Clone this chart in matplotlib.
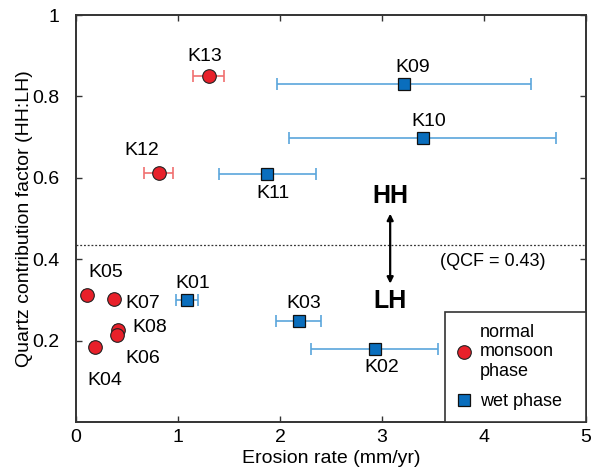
import matplotlib
matplotlib.use("Agg")
import matplotlib.pyplot as plt
from matplotlib.lines import Line2D

plt.rcParams['font.family'] = ['Liberation Sans', 'DejaVu Sans']

# normal monsoon phase (red circles)
n_names = ["K13", "K12", "K05", "K07", "K08", "K06", "K04"]
n_x = [1.30, 0.81, 0.11, 0.37, 0.41, 0.40, 0.19]
n_y = [0.850, 0.612, 0.312, 0.302, 0.226, 0.214, 0.184]
n_xlo = [1.15, 0.67, 0.08, 0.34, 0.38, 0.37, 0.16]
n_xhi = [1.45, 0.95, 0.14, 0.40, 0.44, 0.43, 0.22]
n_off = [(-3, 14), (-12, 16), (13, 16), (21, -3), (23, 2), (19, -17), (7, -24)]

# wet phase (blue squares)
w_names = ["K09", "K10", "K11", "K01", "K03", "K02"]
w_x = [3.22, 3.40, 1.875, 1.09, 2.19, 2.93]
w_y = [0.830, 0.698, 0.609, 0.300, 0.248, 0.179]
w_xlo = [1.97, 2.09, 1.40, 0.98, 1.96, 2.30]
w_xhi = [4.46, 4.71, 2.35, 1.20, 2.40, 3.55]
w_off = [(6, 12), (4, 12), (4, -14), (4, 12), (3, 13), (5, -13)]

qcf = 0.435
x_ticks = [0, 1, 2, 3, 4, 5]
y_ticks = [0.2, 0.4, 0.6, 0.8, 1.0]
y_tick_labels = ["0.2", "0.4", "0.6", "0.8", "1"]

red = "#E8202A"
red_err = "#F07070"
blue = "#0A6EBD"
blue_err = "#5AA5DC"

fig = plt.figure(figsize=(5.91, 4.71), dpi=100)
ax = fig.add_axes([0.1286, 0.104, 0.8630, 0.864])

ax.axhline(qcf, color="#333333", lw=0.9, ls=(0, (1.5, 1.5)), zorder=1)

# error bars
n_err = [[x - lo for x, lo in zip(n_x, n_xlo)], [hi - x for x, hi in zip(n_x, n_xhi)]]
w_err = [[x - lo for x, lo in zip(w_x, w_xlo)], [hi - x for x, hi in zip(w_x, w_xhi)]]
ax.errorbar(n_x, n_y, xerr=n_err, fmt="none", ecolor=red_err, elinewidth=1.2,
            capsize=4, capthick=1.2, zorder=2)
ax.errorbar(w_x, w_y, xerr=w_err, fmt="none", ecolor=blue_err, elinewidth=1.2,
            capsize=4, capthick=1.2, zorder=2)

ax.plot(n_x, n_y, ls="none", marker="o", ms=9.8, mfc=red, mec="#222222", mew=0.8, zorder=3)
ax.plot(w_x, w_y, ls="none", marker="s", ms=8.5, mfc=blue, mec="#111111", mew=0.9, zorder=3)

for name, x, y, off in zip(n_names, n_x, n_y, n_off):
    ax.annotate(name, (x, y), xytext=off, textcoords="offset points",
                ha="center", va="center", fontsize=14, zorder=4)
for name, x, y, off in zip(w_names, w_x, w_y, w_off):
    ax.annotate(name, (x, y), xytext=off, textcoords="offset points",
                ha="center", va="center", fontsize=14, zorder=4)

# HH / LH arrow
ax.annotate("", xy=(3.08, 0.512), xytext=(3.08, 0.34),
            arrowprops=dict(arrowstyle="<|-|>", color="black", lw=1.6,
                            mutation_scale=9, shrinkA=0, shrinkB=0))
ax.text(3.08, 0.556, "HH", ha="center", va="center", fontsize=18, fontweight="bold")
ax.text(3.08, 0.298, "LH", ha="center", va="center", fontsize=18, fontweight="bold")
ax.text(4.09, 0.394, "(QCF = 0.43)", ha="center", va="center", fontsize=13)

ax.set_xlim(0, 5)
ax.set_ylim(0, 1)
ax.set_xticks(x_ticks)
ax.set_xticklabels([str(t) for t in x_ticks])
ax.set_yticks(y_ticks)
ax.set_yticklabels(y_tick_labels)
ax.tick_params(direction="in", length=4, width=1, top=True, right=True,
               labelsize=14, color="#333333")
ax.tick_params(axis="y", pad=12)
ax.tick_params(axis="x", pad=5)
for s in ax.spines.values():
    s.set_linewidth(1.4)
    s.set_color("#333333")

ax.set_xlabel("Erosion rate (mm/yr)", fontsize=14, labelpad=3)
ax.set_ylabel("Quartz contribution factor (HH:LH)", fontsize=14, labelpad=-1)

handles = [
    Line2D([], [], ls="none", marker="o", ms=9.8, mfc=red, mec="#222222", mew=0.8),
    Line2D([], [], ls="none", marker="s", ms=8, mfc=blue, mec="#111111", mew=0.9),
]
leg = ax.legend(handles, ["normal\nmonsoon\nphase", "wet phase"], loc="lower left",
                bbox_to_anchor=(0.7227, 0.0, 0.2773, 0.27), mode="expand",
                borderaxespad=0, fancybox=False, edgecolor="#333333", fontsize=13,
                handlelength=0.8, handletextpad=0.5, labelspacing=0.75,
                borderpad=0.65, framealpha=1)
leg.get_frame().set_linewidth(1.2)

fig.savefig("out.png", dpi=100)
